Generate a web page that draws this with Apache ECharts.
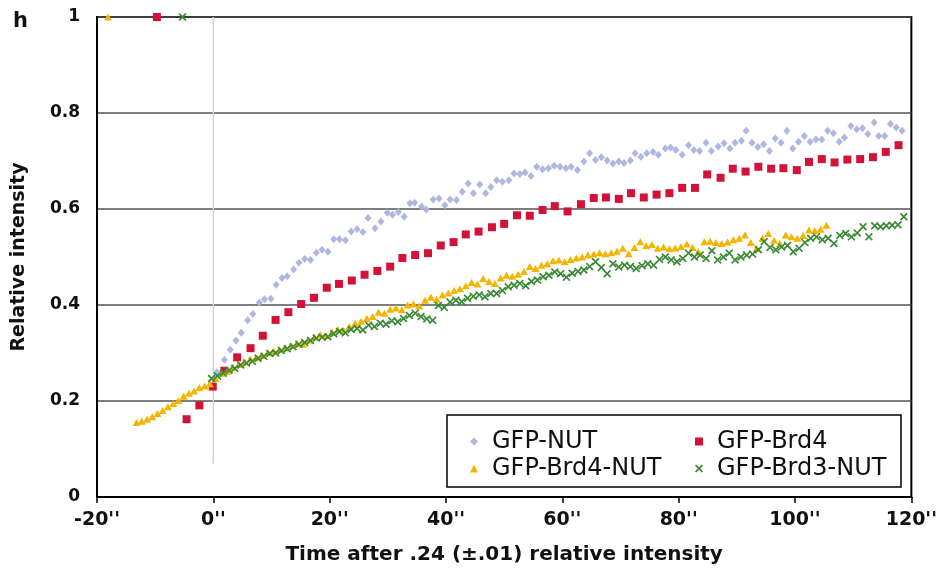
<!DOCTYPE html>
<html><head><meta charset="utf-8">
<script src="https://cdn.jsdelivr.net/npm/echarts@6/dist/echarts.min.js"></script>
<style>html,body{margin:0;padding:0;background:#fff}#c{width:940px;height:574px}</style>
</head><body><div id="c"></div><script>
const seriesNames = ['GFP-NUT', 'GFP-Brd4', 'GFP-Brd4-NUT', 'GFP-Brd3-NUT'];
const xTickValues = [-20, 0, 20, 40, 60, 80, 100, 120];
const yTickValues = [0, 0.2, 0.4, 0.6, 0.8, 1];
const xAxisTitle = 'Time after .24 (±.01) relative intensity';
const yAxisTitle = 'Relative intensity';
const panelLabel = 'h';

// vertical reference line at time 0
const zeroLine = [[0, 0.07], [0, 1]];

const nutData = [
[0.6,0.26],[1.9,0.286],[2.9,0.307],[3.9,0.326],[4.8,0.342],[5.9,0.368],[6.8,0.381],[7.9,0.405],[8.8,0.412],[9.9,0.413],
[10.8,0.442],[11.8,0.456],[12.7,0.46],[13.8,0.474],[14.7,0.488],[15.7,0.496],[16.7,0.494],[17.7,0.509],[18.7,0.515],[19.7,0.511],
[20.7,0.537],[21.7,0.537],[22.7,0.535],[23.7,0.553],[24.7,0.558],[25.7,0.552],[26.6,0.581],[27.8,0.56],[28.8,0.574],[29.9,0.592],
[30.8,0.588],[31.8,0.594],[32.8,0.584],[33.8,0.612],[34.6,0.613],[35.8,0.605],[36.6,0.599],[37.8,0.62],[38.8,0.622],[39.8,0.608],
[40.7,0.62],[41.8,0.619],[42.8,0.636],[43.8,0.653],[44.7,0.633],[45.8,0.651],[46.8,0.633],[47.7,0.646],[48.7,0.66],[49.7,0.657],
[50.8,0.66],[51.7,0.674],[52.7,0.673],[53.6,0.676],[54.6,0.669],[55.6,0.688],[56.6,0.683],[57.6,0.685],[58.6,0.69],[59.6,0.688],
[60.6,0.685],[61.5,0.688],[62.6,0.681],[63.7,0.699],[64.7,0.716],[65.7,0.702],[66.7,0.708],[67.7,0.701],[68.7,0.695],[69.7,0.699],
[70.6,0.696],[71.7,0.701],[72.5,0.716],[73.5,0.709],[74.5,0.716],[75.6,0.719],[76.5,0.713],[77.7,0.726],[78.6,0.728],[79.5,0.723],
[80.6,0.713],[81.7,0.733],[82.6,0.723],[83.6,0.721],[84.7,0.738],[85.6,0.721],[86.8,0.73],[87.8,0.737],[88.8,0.726],[89.7,0.738],
[90.8,0.742],[91.6,0.763],[92.6,0.738],[93.6,0.729],[94.6,0.735],[95.6,0.721],[96.6,0.747],[97.6,0.738],[98.6,0.763],[99.6,0.726],
[100.6,0.74],[101.6,0.752],[102.6,0.74],[103.6,0.745],[104.6,0.745],[105.6,0.763],[106.6,0.758],[107.6,0.74],[108.5,0.749],[109.6,0.773],
[110.6,0.766],[111.6,0.768],[112.5,0.756],[113.6,0.78],[114.4,0.752],[115.4,0.752],[116.4,0.777],[117.4,0.77],[118.4,0.763]
];

const brd4Data = [
[-9.7,1],
[-4.6,0.162],[-2.4,0.191],[-0.1,0.23],[1.9,0.263],[4.1,0.291],[6.4,0.31],[8.5,0.336],[10.7,0.369],[12.9,0.385],[15.1,0.402],
[17.3,0.415],[19.5,0.436],[21.6,0.444],[23.8,0.451],[26.0,0.463],[28.2,0.471],[30.4,0.48],[32.5,0.498],[34.7,0.504],[36.9,0.508],
[39.1,0.524],[41.3,0.531],[43.4,0.547],[45.6,0.553],[47.9,0.562],[50.0,0.569],[52.2,0.587],[54.4,0.586],[56.6,0.598],[58.7,0.606],
[60.9,0.595],[63.2,0.61],[65.4,0.623],[67.5,0.624],[69.7,0.621],[71.8,0.633],[74.0,0.624],[76.2,0.63],[78.4,0.633],[80.6,0.644],
[82.8,0.644],[84.9,0.672],[87.2,0.665],[89.3,0.684],[91.5,0.678],[93.7,0.688],[95.9,0.684],[98.0,0.685],[100.3,0.681],[102.4,0.698],
[104.6,0.704],[106.8,0.697],[109.0,0.703],[111.2,0.704],[113.4,0.708],[115.6,0.719],[117.8,0.733]
];

const brd4NutData = [
[-18.1,1],
[-13.2,0.155],[-12.3,0.158],[-11.4,0.162],[-10.5,0.167],[-9.6,0.174],[-8.7,0.18],[-7.8,0.188],[-6.9,0.195],[-6.0,0.201],[-5.1,0.21],
[-4.2,0.216],[-3.3,0.221],[-2.4,0.228],[-1.5,0.231],[-0.6,0.236],[0.4,0.247],[1.4,0.258],[2.4,0.262],[3.4,0.27],[4.4,0.276],
[5.4,0.281],[6.4,0.287],[7.4,0.29],[8.4,0.295],[9.4,0.301],[10.4,0.304],[11.4,0.307],[12.4,0.311],[13.4,0.316],[14.4,0.32],
[15.4,0.318],[16.4,0.327],[17.4,0.333],[18.4,0.338],[19.4,0.336],[20.4,0.343],[21.4,0.349],[22.4,0.347],[23.4,0.355],[24.4,0.362],
[25.4,0.366],[26.4,0.372],[27.4,0.376],[28.4,0.385],[29.4,0.383],[30.4,0.391],[31.4,0.394],[32.4,0.39],[33.4,0.4],[34.4,0.402],
[35.4,0.398],[36.4,0.41],[37.4,0.416],[38.4,0.412],[39.4,0.421],[40.4,0.425],[41.4,0.43],[42.4,0.434],[43.4,0.44],[44.4,0.447],
[45.4,0.444],[46.4,0.455],[47.4,0.449],[48.4,0.445],[49.4,0.456],[50.4,0.462],[51.4,0.46],[52.4,0.464],[53.4,0.47],[54.4,0.48],
[55.4,0.476],[56.4,0.483],[57.4,0.486],[58.4,0.492],[59.4,0.494],[60.4,0.49],[61.4,0.495],[62.4,0.498],[63.4,0.5],[64.4,0.504],
[65.4,0.506],[66.4,0.509],[67.4,0.507],[68.4,0.509],[69.4,0.512],[70.4,0.518],[71.4,0.507],[72.4,0.52],[73.4,0.532],[74.4,0.524],
[75.4,0.526],[76.4,0.518],[77.4,0.521],[78.4,0.517],[79.4,0.519],[80.4,0.522],[81.4,0.527],[82.4,0.52],[83.4,0.511],[84.4,0.532],
[85.4,0.533],[86.4,0.53],[87.4,0.528],[88.4,0.531],[89.4,0.536],[90.4,0.539],[91.4,0.546],[92.4,0.53],[93.4,0.518],[94.4,0.539],
[95.4,0.549],[96.4,0.535],[97.4,0.528],[98.4,0.546],[99.4,0.542],[100.4,0.539],[101.4,0.545],[102.4,0.556],[103.4,0.555],[104.4,0.558],
[105.4,0.566]
];

const brd3NutData = [
[-5.3,1],
[-0.3,0.247],[0.7,0.252],[1.7,0.258],[2.7,0.264],[3.7,0.268],[4.7,0.275],[5.7,0.279],[6.7,0.283],[7.7,0.289],[8.7,0.293],
[9.7,0.299],[10.7,0.3],[11.7,0.305],[12.7,0.309],[13.7,0.313],[14.7,0.318],[15.7,0.322],[16.7,0.326],[17.7,0.331],[18.7,0.333],
[19.7,0.334],[20.7,0.34],[21.7,0.345],[22.7,0.342],[23.7,0.349],[24.7,0.351],[25.7,0.348],[26.7,0.358],[27.7,0.355],[28.7,0.362],
[29.7,0.36],[30.7,0.367],[31.7,0.365],[32.7,0.372],[33.7,0.378],[34.7,0.383],[35.7,0.376],[36.7,0.371],[37.7,0.368],[38.7,0.399],
[39.7,0.395],[40.7,0.406],[41.7,0.41],[42.7,0.407],[43.7,0.414],[44.7,0.418],[45.7,0.421],[46.7,0.417],[47.7,0.424],[48.7,0.424],
[49.7,0.43],[50.7,0.438],[51.7,0.441],[52.7,0.445],[53.7,0.44],[54.7,0.449],[55.7,0.452],[56.7,0.459],[57.7,0.462],[58.7,0.469],
[59.7,0.465],[60.7,0.458],[61.7,0.466],[62.7,0.47],[63.7,0.473],[64.7,0.48],[65.7,0.49],[66.7,0.478],[67.7,0.465],[68.7,0.486],
[69.7,0.479],[70.7,0.483],[71.7,0.48],[72.7,0.476],[73.7,0.482],[74.7,0.486],[75.7,0.483],[76.7,0.495],[77.7,0.5],[78.7,0.494],
[79.7,0.49],[80.7,0.497],[81.7,0.508],[82.7,0.5],[83.7,0.504],[84.7,0.497],[85.7,0.513],[86.7,0.494],[87.7,0.5],[88.7,0.508],
[89.7,0.494],[90.7,0.5],[91.7,0.504],[92.7,0.506],[93.7,0.515],[94.7,0.532],[95.7,0.52],[96.7,0.515],[97.7,0.521],[98.7,0.524],
[99.7,0.511],[100.7,0.518],[101.7,0.53],[102.7,0.539],[103.7,0.542],[104.7,0.536],[105.7,0.539],[106.7,0.528],[107.7,0.545],[108.7,0.549],
[109.7,0.542],[110.7,0.55],[111.7,0.563],[112.7,0.542],[113.7,0.565],[114.7,0.563],[115.7,0.565],[116.7,0.566],[117.7,0.567],[118.7,0.584]
];

const colors = ['#aeb7e0', '#d3123a', '#f5b400', '#3a8a35'];
const xSymbol = 'path://M0,1.5L1.5,0L5,3.5L8.5,0L10,1.5L6.5,5L10,8.5L8.5,10L5,6.5L1.5,10L0,8.5L3.5,5Z';
const FONT = '"DejaVu Sans", Verdana, sans-serif';

const chart = echarts.init(document.getElementById('c'), null, {renderer: 'canvas'});
chart.setOption({
  animation: false,
  backgroundColor: '#fff',
  title: {text: panelLabel, left: 8, top: 6, textStyle: {fontFamily: FONT, fontWeight: 'bold', fontSize: 21, color: '#111'}},
  grid: {left: 97, right: 24, top: 17, bottom: 77, show: true, borderColor: '#000', borderWidth: 2, backgroundColor: 'transparent'},
  graphic: [{
    type: 'rect', z: 3, shape: {x: 447, y: 415, width: 454, height: 72},
    style: {fill: '#fff', stroke: '#000', lineWidth: 1.5}
  }],
  legend: [
    {data: [seriesNames[0], seriesNames[2]], orient: 'vertical', left: 465, top: 423, itemGap: 0, itemWidth: 8, itemHeight: 8, z: 5,
     textStyle: {fontFamily: FONT, fontSize: 24, color: '#111', lineHeight: 27, padding: [0, 0, 0, 9]}},
    {data: [seriesNames[1], seriesNames[3]], orient: 'vertical', left: 690, top: 423, itemGap: 0, itemWidth: 8, itemHeight: 8, z: 5,
     textStyle: {fontFamily: FONT, fontSize: 24, color: '#111', lineHeight: 27, padding: [0, 0, 0, 9]}}
  ],
  xAxis: {
    type: 'value', min: xTickValues[0], max: xTickValues[xTickValues.length - 1], interval: 20,
    name: xAxisTitle, nameLocation: 'middle', nameGap: 48,
    nameTextStyle: {fontFamily: FONT, fontWeight: 'bold', fontSize: 20, color: '#111'},
    axisLine: {show: true, onZero: false, lineStyle: {color: '#000', width: 2}},
    axisTick: {show: true, inside: false, length: 6, lineStyle: {color: '#000', width: 1.5}},
    axisLabel: {margin: 14, fontFamily: FONT, fontWeight: 'bold', fontSize: 19, color: '#111', formatter: v => v + "''"},
    splitLine: {show: false}
  },
  yAxis: {
    type: 'value', min: yTickValues[0], max: yTickValues[yTickValues.length - 1], interval: 0.2,
    name: yAxisTitle, nameLocation: 'middle', nameGap: 68, nameRotate: 90,
    nameTextStyle: {fontFamily: FONT, fontWeight: 'bold', fontSize: 19, color: '#111'},
    axisLine: {show: true, onZero: false, lineStyle: {color: '#000', width: 2}},
    axisTick: {show: false},
    axisLabel: {margin: 17, fontFamily: FONT, fontWeight: 'bold', fontSize: 17, color: '#111', formatter: v => String(v)},
    splitLine: {show: true, lineStyle: {color: '#555', width: 1.5}}
  },
  series: [
    {type: 'line', data: zeroLine, symbol: 'none', silent: true, lineStyle: {color: '#d0d0d0', width: 1.5}, z: 1},
    {name: seriesNames[0], type: 'scatter', data: nutData, symbol: 'diamond', symbolSize: [7, 8], itemStyle: {color: colors[0], opacity: 1}, z: 2},
    {name: seriesNames[1], type: 'scatter', data: brd4Data, symbol: 'rect', symbolSize: 8, itemStyle: {color: colors[1], opacity: 1}, z: 2},
    {name: seriesNames[2], type: 'scatter', data: brd4NutData, symbol: 'triangle', symbolSize: [8, 7], itemStyle: {color: colors[2], opacity: 1}, z: 2},
    {name: seriesNames[3], type: 'scatter', data: brd3NutData, symbol: xSymbol, symbolSize: 8, itemStyle: {color: colors[3], opacity: 1}, z: 2}
  ]
});
</script></body></html>
